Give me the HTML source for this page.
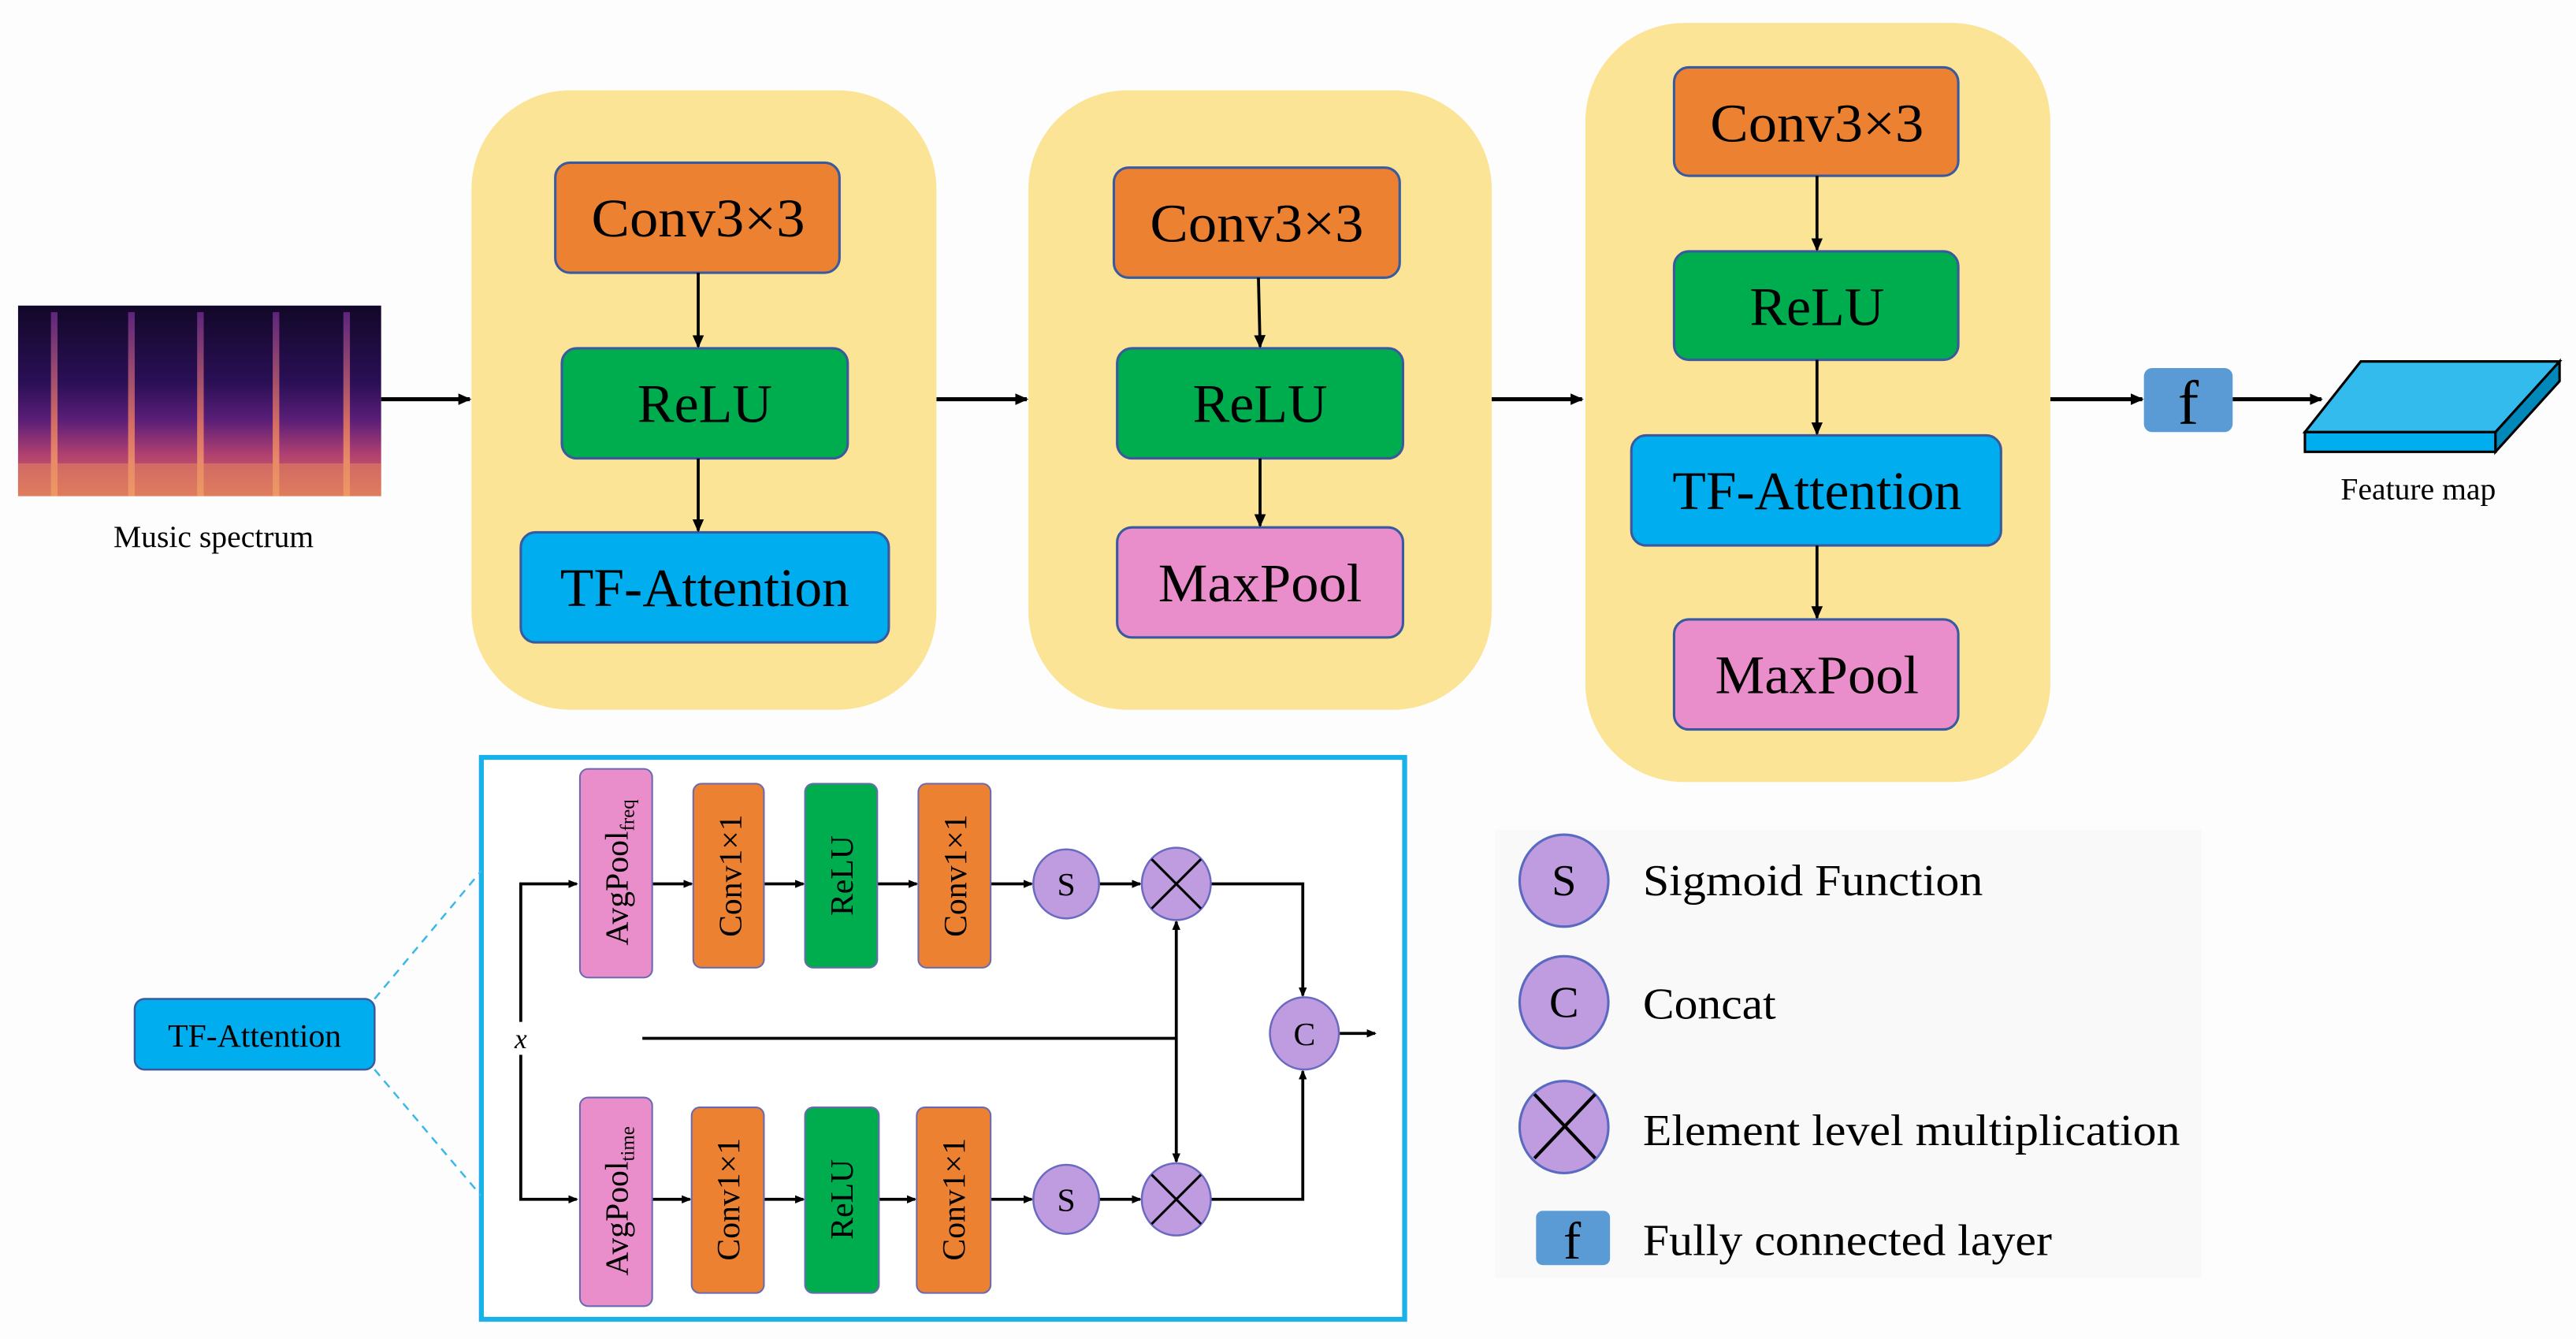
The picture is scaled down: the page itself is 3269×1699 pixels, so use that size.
<!DOCTYPE html>
<html><head><meta charset="utf-8">
<style>html,body{margin:0;padding:0;background:#fdfdfd;}svg{display:block}
svg text{font-family:"Liberation Serif","DejaVu Serif",serif;}</style>
</head><body>
<svg width="3269" height="1699" viewBox="0 0 1568 815" preserveAspectRatio="none" xmlns="http://www.w3.org/2000/svg">
<defs>
<marker id="a" markerWidth="8" markerHeight="8" refX="7" refY="4" orient="auto" markerUnits="userSpaceOnUse"><path d="M0,0.5 L8,4 L0,7.5 Z" fill="#000"/></marker>
<marker id="s" markerWidth="6" markerHeight="6" refX="5" refY="3" orient="auto" markerUnits="userSpaceOnUse"><path d="M0,0.5 L6,3 L0,5.5 Z" fill="#000"/></marker>
<linearGradient id="sp" x1="0" y1="0" x2="0" y2="1">
<stop offset="0" stop-color="#120828"/><stop offset="0.4" stop-color="#2a0f55"/><stop offset="0.6" stop-color="#5a1e78"/><stop offset="0.78" stop-color="#b04070"/><stop offset="1" stop-color="#d8705a"/></linearGradient>
<linearGradient id="st" x1="0" y1="0" x2="0" y2="1"><stop offset="0" stop-color="#6a2a8a"/><stop offset="0.6" stop-color="#e87a60"/><stop offset="1" stop-color="#f8b070"/></linearGradient>
</defs>
<rect width="1568" height="815" fill="#fdfdfd"/>
<!-- spectrogram -->
<rect x="11" y="186" width="221" height="116" fill="url(#sp)"/>
<g fill="url(#st)" opacity="0.85">
<rect x="31" y="190" width="4" height="112"/><rect x="78" y="190" width="4" height="112"/><rect x="120" y="190" width="4" height="112"/><rect x="166" y="190" width="4" height="112"/><rect x="209" y="190" width="4" height="112"/></g>
<rect x="11" y="282" width="221" height="20" fill="#e88a60" opacity="0.5"/>
<text x="130" y="333" font-size="19" text-anchor="middle">Music spectrum</text>
<!-- main arrows -->
<g stroke="#000" stroke-width="2.5" marker-end="url(#a)">
<line x1="232" y1="243" x2="286" y2="243"/><line x1="570" y1="243" x2="625" y2="243"/><line x1="908" y1="243" x2="963" y2="243"/><line x1="1248" y1="243" x2="1304" y2="243"/><line x1="1359" y1="243" x2="1413" y2="243"/></g>
<!-- blocks -->
<g fill="#fce496"><rect x="287" y="55" width="283" height="377" rx="60"/><rect x="626" y="55" width="282" height="377" rx="60"/><rect x="965" y="14" width="283" height="462" rx="60"/></g>
<g stroke="#3a5aa0" stroke-width="1.5">
<rect x="338" y="99" width="173" height="67" rx="9" fill="#ed8132"/>
<rect x="342" y="212" width="174" height="67" rx="9" fill="#00ad4e"/>
<rect x="317" y="324" width="224" height="67" rx="9" fill="#00aeef"/>
<rect x="678" y="102" width="174" height="67" rx="9" fill="#ed8132"/>
<rect x="680" y="212" width="174" height="67" rx="9" fill="#00ad4e"/>
<rect x="680" y="321" width="174" height="67" rx="9" fill="#ea8ecb"/>
<rect x="1019" y="41" width="173" height="66" rx="9" fill="#ed8132"/>
<rect x="1019" y="153" width="173" height="66" rx="9" fill="#00ad4e"/>
<rect x="993" y="265" width="225" height="67" rx="9" fill="#00aeef"/>
<rect x="1019" y="377" width="173" height="67" rx="9" fill="#ea8ecb"/>
</g>
<g stroke="#000" stroke-width="1.8" marker-end="url(#a)">
<line x1="425" y1="166" x2="425" y2="211"/><line x1="425" y1="279" x2="425" y2="323"/>
<line x1="766" y1="169" x2="767" y2="211"/><line x1="767" y1="279" x2="767" y2="320"/>
<line x1="1106" y1="107" x2="1106" y2="152"/><line x1="1106" y1="219" x2="1106" y2="264"/><line x1="1106" y1="332" x2="1106" y2="376"/></g>
<g font-size="33" text-anchor="middle">
<text x="425" y="144" textLength="130" lengthAdjust="spacingAndGlyphs">Conv3×3</text><text x="429" y="257" textLength="82" lengthAdjust="spacingAndGlyphs">ReLU</text><text x="429" y="369" textLength="176" lengthAdjust="spacingAndGlyphs">TF-Attention</text>
<text x="765" y="147" textLength="130" lengthAdjust="spacingAndGlyphs">Conv3×3</text><text x="767" y="257" textLength="82" lengthAdjust="spacingAndGlyphs">ReLU</text><text x="767" y="366" textLength="124" lengthAdjust="spacingAndGlyphs">MaxPool</text>
<text x="1106" y="86" textLength="130" lengthAdjust="spacingAndGlyphs">Conv3×3</text><text x="1106" y="198" textLength="82" lengthAdjust="spacingAndGlyphs">ReLU</text><text x="1106" y="310" textLength="176" lengthAdjust="spacingAndGlyphs">TF-Attention</text><text x="1106" y="422" textLength="124" lengthAdjust="spacingAndGlyphs">MaxPool</text></g>
<!-- f and feature map -->
<rect x="1305" y="224" width="54" height="39" rx="5" fill="#5b9bd5"/>
<text x="1332" y="258" font-size="38" text-anchor="middle">f</text>
<polygon points="1403,263 1437,220 1558,220 1519,263" fill="#33bbee" stroke="#000" stroke-width="1.5"/>
<polygon points="1403,263 1519,263 1519,275 1403,275" fill="#00aeef" stroke="#000" stroke-width="1.5"/>
<polygon points="1519,263 1558,220 1558,232 1519,275" fill="#0088bb" stroke="#000" stroke-width="1.5"/>
<text x="1472" y="304" font-size="19" text-anchor="middle">Feature map</text>
<!-- lower box -->
<rect x="293" y="461" width="562" height="342" fill="#fff" stroke="#1ab0e8" stroke-width="3"/>
<g stroke="#3ab8e8" stroke-width="1.2" stroke-dasharray="5,4"><line x1="228" y1="608" x2="293" y2="530"/><line x1="228" y1="651" x2="293" y2="728"/></g>
<rect x="82" y="608" width="146" height="43" rx="6" fill="#00aeef" stroke="#3a5aa0" stroke-width="1.2"/>
<text x="155" y="637" font-size="20" text-anchor="middle">TF-Attention</text>
<g stroke="#000" stroke-width="1.8" fill="none">
<polyline points="317,622 317,538 351,538" marker-end="url(#s)"/>
<polyline points="317,642 317,730 351,730" marker-end="url(#s)"/>
<line x1="391" y1="632" x2="716" y2="632"/>
<line x1="716" y1="632" x2="716" y2="561" marker-end="url(#s)"/>
<line x1="716" y1="632" x2="716" y2="707" marker-end="url(#s)"/>
<polyline points="737,538 793,538 793,606" marker-end="url(#s)"/>
<polyline points="737,730 793,730 793,652" marker-end="url(#s)"/>
<line x1="815" y1="629" x2="837" y2="629" marker-end="url(#s)"/>
<line x1="397" y1="538" x2="421" y2="538" marker-end="url(#s)"/><line x1="465" y1="538" x2="489" y2="538" marker-end="url(#s)"/><line x1="534" y1="538" x2="558" y2="538" marker-end="url(#s)"/><line x1="603" y1="538" x2="628" y2="538" marker-end="url(#s)"/><line x1="669" y1="538" x2="694" y2="538" marker-end="url(#s)"/>
<line x1="397" y1="730" x2="420" y2="730" marker-end="url(#s)"/><line x1="465" y1="730" x2="489" y2="730" marker-end="url(#s)"/><line x1="535" y1="730" x2="557" y2="730" marker-end="url(#s)"/><line x1="603" y1="730" x2="628" y2="730" marker-end="url(#s)"/><line x1="669" y1="730" x2="694" y2="730" marker-end="url(#s)"/>
</g>
<text x="317" y="638" font-size="17" font-style="italic" text-anchor="middle">x</text>
<g stroke="#6a6ab0" stroke-width="1">
<rect x="353" y="468" width="44" height="127" rx="5" fill="#ea8ecb"/>
<rect x="422" y="477" width="43" height="112" rx="5" fill="#ed8132"/>
<rect x="490" y="477" width="44" height="112" rx="5" fill="#00ad4e"/>
<rect x="559" y="477" width="44" height="112" rx="5" fill="#ed8132"/>
<rect x="353" y="668" width="44" height="127" rx="5" fill="#ea8ecb"/>
<rect x="421" y="674" width="44" height="113" rx="5" fill="#ed8132"/>
<rect x="490" y="674" width="45" height="113" rx="5" fill="#00ad4e"/>
<rect x="558" y="674" width="45" height="113" rx="5" fill="#ed8132"/>
<g fill="#bf9be0" stroke="#6a6ac0" stroke-width="1.2">
<ellipse cx="649" cy="538" rx="20" ry="21"/><ellipse cx="716" cy="538" rx="21" ry="22"/>
<ellipse cx="649" cy="730" rx="20" ry="21"/><ellipse cx="716" cy="730" rx="21" ry="22"/>
<ellipse cx="794" cy="629" rx="21" ry="22"/></g>
</g>
<g stroke="#000" stroke-width="1.5"><line x1="701" y1="523" x2="731" y2="553"/><line x1="731" y1="523" x2="701" y2="553"/><line x1="701" y1="715" x2="731" y2="745"/><line x1="731" y1="715" x2="701" y2="745"/></g>
<g font-size="20" text-anchor="middle">
<text x="649" y="545">S</text><text x="649" y="737">S</text><text x="794" y="636">C</text>
<text transform="translate(382,531) rotate(-90)">AvgPool<tspan font-size="12" dy="4">freq</tspan></text>
<text transform="translate(451,533) rotate(-90)">Conv1×1</text>
<text transform="translate(519,533) rotate(-90)">ReLU</text>
<text transform="translate(588,533) rotate(-90)">Conv1×1</text>
<text transform="translate(382,731) rotate(-90)">AvgPool<tspan font-size="12" dy="4">time</tspan></text>
<text transform="translate(450,730) rotate(-90)">Conv1×1</text>
<text transform="translate(519,730) rotate(-90)">ReLU</text>
<text transform="translate(587,730) rotate(-90)">Conv1×1</text>
</g>
<!-- legend -->
<rect x="910" y="505" width="430" height="273" fill="#f9f9f9"/>
<g fill="#bf9be0" stroke="#5a6ac0" stroke-width="1.5">
<ellipse cx="952" cy="536" rx="27" ry="28"/><ellipse cx="952" cy="610" rx="27" ry="28"/><ellipse cx="952" cy="686" rx="27" ry="28"/></g>
<g stroke="#000" stroke-width="2"><line x1="934" y1="666" x2="971" y2="705"/><line x1="971" y1="666" x2="934" y2="705"/></g>
<rect x="935" y="737" width="45" height="33" rx="4" fill="#5b9bd5"/>
<g font-size="27">
<text x="952" y="545" text-anchor="middle">S</text><text x="952" y="619" text-anchor="middle">C</text>
<text x="957" y="766" text-anchor="middle" font-size="32">f</text>
<text x="1000" y="545" textLength="207" lengthAdjust="spacingAndGlyphs">Sigmoid Function</text>
<text x="1000" y="620" textLength="81" lengthAdjust="spacingAndGlyphs">Concat</text>
<text x="1000" y="697" textLength="327" lengthAdjust="spacingAndGlyphs">Element level multiplication</text>
<text x="1000" y="764" textLength="249" lengthAdjust="spacingAndGlyphs">Fully connected layer</text>
</g>
</svg>
</body></html>
